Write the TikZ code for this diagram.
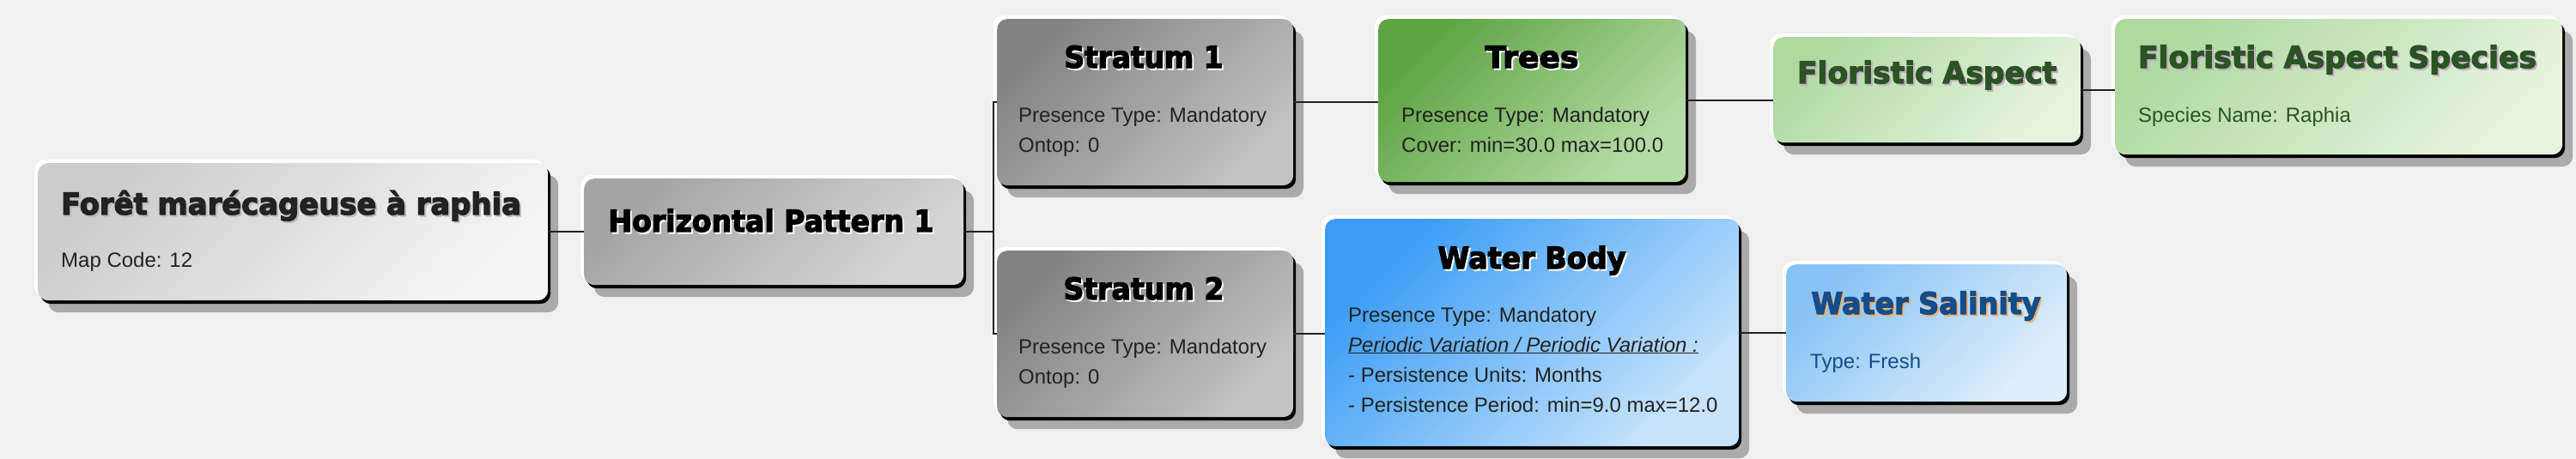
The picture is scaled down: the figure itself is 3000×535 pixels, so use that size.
\documentclass[tikz,border=0pt]{standalone}
\usepackage{fontspec}
\usetikzlibrary{calc}
\setmainfont{Liberation Sans}
\newfontfamily\tfont{DejaVu Sans}[FakeBold=3.6]
\newfontfamily\bfont{Liberation Sans}
\definecolor{bg}{HTML}{F0F0F0}
\definecolor{shd}{HTML}{AAAAAA}
\definecolor{fora}{HTML}{CCCCCC}\definecolor{forb}{HTML}{F5F5F5}
\definecolor{hpa}{HTML}{A4A4A4}\definecolor{hpb}{HTML}{D6D6D6}
\definecolor{sta}{HTML}{838383}\definecolor{stb}{HTML}{C2C2C2}
\definecolor{tra}{HTML}{5DA443}\definecolor{trb}{HTML}{B6DCA6}
\definecolor{faa}{HTML}{B0D9A0}\definecolor{fab}{HTML}{E6F4E0}
\definecolor{wba}{HTML}{3A9CF5}\definecolor{wbb}{HTML}{C8E4FC}
\definecolor{wsa}{HTML}{88C3F5}\definecolor{wsb}{HTML}{E0EFFC}
\definecolor{dgreen}{HTML}{2A5424}
\definecolor{pinksh}{HTML}{C8A8C8}
\definecolor{dblue}{HTML}{154C8A}
\definecolor{orsh}{HTML}{F0B070}
\definecolor{dtext}{HTML}{222222}
\newsavebox\ttlbox
\newcommand\ttl[4]{%
  \sbox\ttlbox{\tfont\bfseries\fontsize{35}{38}\selectfont
    \rlap{\kern2pt\raisebox{-2pt}{\color{#2}#4}}{\color{#3}#4}}%
  \pgfmathsetmacro\ttlr{#1/\the\wd\ttlbox}%
  \scalebox{\ttlr}[1]{\usebox\ttlbox}}
\newcommand\bd{\bfont\fontsize{24}{35}\selectfont}
\newcommand\blines[1]{\vtop{\bd\baselineskip=35pt\lineskiplimit=-100pt\lineskip=0pt\halign{##\hfil\cr#1\crcr}}}
\tikzset{
  card/.style 2 args={rectangle, rounded corners=12pt, inner sep=0pt, anchor=north west,
    preaction={fill=shd, transform canvas={shift={(12pt,-14pt)}}},
    preaction={fill=black, transform canvas={shift={(3pt,-4pt)}}},
    preaction={fill=white, transform canvas={shift={(-4pt,4pt)}}},
    top color=#1, bottom color=#2, shading angle=45},
  ttlnode/.style={anchor=base, inner sep=0pt},
  bodynode/.style={anchor=base west, inner sep=0pt},
  conn/.style={draw=dtext, line width=2pt},
}
\begin{document}
\begin{tikzpicture}[x=1pt,y=-1pt]
\fill[bg] (0,0) rectangle (3000,535);
\useasboundingbox (0,0) rectangle (3000,535);
% boxes
\node[card={fora}{forb}, minimum width=594pt, minimum height=160pt] (foret) at (44,190) {};
\node[card={hpa}{hpb}, minimum width=442pt, minimum height=124pt] (hp) at (680,208) {};
\node[card={sta}{stb}, minimum width=345pt, minimum height=194pt] (s1) at (1161,22) {};
\node[card={sta}{stb}, minimum width=345pt, minimum height=194pt] (s2) at (1161,292) {};
\node[card={tra}{trb}, minimum width=358pt, minimum height=190pt] (trees) at (1605,22) {};
\node[card={wba}{wbb}, minimum width=482pt, minimum height=265pt] (wb) at (1543,255) {};
\node[card={faa}{fab}, minimum width=358pt, minimum height=123pt] (fa) at (2065,43) {};
\node[card={faa}{fab}, minimum width=521pt, minimum height=158pt] (fas) at (2463,22) {};
\node[card={wsa}{wsb}, minimum width=327pt, minimum height=160pt] (ws) at (2080,308) {};
% connectors
\draw[conn] (foret.east) -- (foret.east -| hp.west);
\draw[conn] (hp.east) -- ++(35,0) coordinate (hj);
\draw[conn] (hj) |- (s1.west);
\draw[conn] (hj) |- (s2.west);
\draw[conn] (s1.east) -- (s1.east -| trees.west);
\draw[conn] (s2.east) -- (s2.east -| wb.west);
\draw[conn] (trees.east) -- (trees.east -| fa.west);
\draw[conn] (fa.east) -- (fa.east -| fas.west);
\draw[conn] (wb.east) -- (wb.east -| ws.west);
% titles
\node[ttlnode] (foretT) at (339,250) {\ttl{536}{gray!55}{dtext}{Forêt marécageuse à raphia}};
\node[ttlnode] (hpT) at (898,270) {\ttl{379}{white}{black}{Horizontal Pattern 1}};
\node[ttlnode] (s1T) at (1332,79) {\ttl{185}{white}{black}{Stratum 1}};
\node[ttlnode] (s2T) at (1332,349) {\ttl{187}{white}{black}{Stratum 2}};
\node[ttlnode] (treesT) at (1784,79) {\ttl{109}{white}{black}{Trees}};
\node[ttlnode] (wbT) at (1784,313) {\ttl{219}{white}{black}{Water Body}};
\node[ttlnode] (faT) at (2244,97) {\ttl{302}{pinksh}{dgreen}{Floristic Aspect}};
\node[ttlnode] (fasT) at (2722,79) {\ttl{464}{pinksh}{dgreen}{Floristic Aspect Species}};
\node[ttlnode] (wsT) at (2243,366) {\ttl{267}{orsh}{dblue}{Water Salinity}};
% bodies
\node[bodynode, text=dtext] (foretB) at (71,311) {\blines{Map Code: 12}};
\node[bodynode, text=dtext] (s1B) at (1186,142) {\blines{Presence Type: Mandatory\cr Ontop: 0}};
\node[bodynode, text=dtext] (s2B) at (1186,412) {\blines{Presence Type: Mandatory\cr Ontop: 0}};
\node[bodynode, text=dtext] (treesB) at (1632,142) {\blines{Presence Type: Mandatory\cr Cover: min=30.0 max=100.0}};
\node[bodynode, text=dtext] (wbB) at (1570,375) {\blines{Presence Type: Mandatory\cr \underline{\itshape Periodic Variation / Periodic Variation :}\cr - Persistence Units: Months\cr - Persistence Period: min=9.0 max=12.0}};
\node[bodynode, text=dgreen] (fasB) at (2490,142) {\blines{Species Name: Raphia}};
\node[bodynode, text=dblue] (wsB) at (2108,429) {\blines{Type: Fresh}};
\end{tikzpicture}
\end{document}
